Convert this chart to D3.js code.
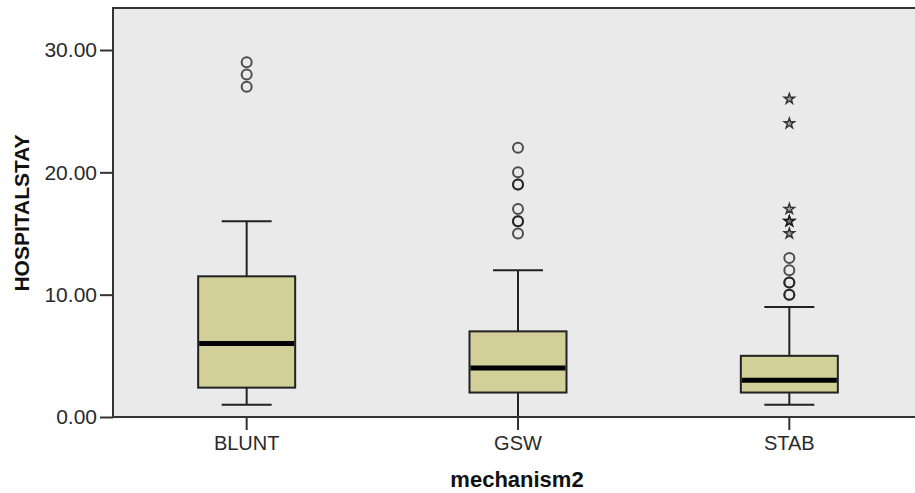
<!DOCTYPE html>
<html>
<head>
<meta charset="utf-8">
<script src="https://cdn.jsdelivr.net/npm/d3@7"></script>
<style>
  html, body { margin: 0; padding: 0; background: #fff; }
  svg { display: block; }
</style>
</head>
<body>
<svg id="chart" width="915" height="493"></svg>
<script>
// Hospital stay by injury mechanism: box-plot summaries
const categories = ["BLUNT", "GSW", "STAB"];
const lowerWhisker = [1, 0, 1];
const q1 = [2.4, 2, 2];
const median = [6, 4, 3];
const q3 = [11.5, 7, 5];
const upperWhisker = [16, 12, 9];
// outliers (circles) and extreme values (stars); repeats are duplicate cases
const outliers = [
  [27, 28, 29],
  [15, 16, 16, 17, 19, 19, 20, 22],
  [10, 10, 11, 11, 12, 13]
];
const extremes = [
  [],
  [],
  [15, 16, 16, 17, 24, 26]
];
const yTicks = [0, 10, 20, 30];
const xTitle = "mechanism2";
const yTitle = "HOSPITALSTAY";

const svg = d3.select("#chart");
const plotLeft = 113, plotTop = 8, plotBottom = 417, plotRight = 930;

const x = d3.scaleBand().domain(categories).range([111, 925]).padding(0);
const y = d3.scaleLinear().domain([0, 30]).range([plotBottom, 50]);

const boxW = 97, capW = 50;
const font = "'Liberation Sans', Arial, sans-serif";

// plot background
svg.append("rect")
  .attr("x", plotLeft).attr("y", plotTop)
  .attr("width", plotRight - plotLeft).attr("height", plotBottom - plotTop)
  .attr("fill", "#eaeaea");

const rows = categories.map((c, i) => ({
  c, lo: lowerWhisker[i], q1: q1[i], med: median[i], q3: q3[i], hi: upperWhisker[i],
  out: outliers[i], ext: extremes[i]
}));

const g = svg.append("g");
rows.forEach(d => {
  const cx = x(d.c) + x.bandwidth() / 2;
  const line = (x1, y1, x2, y2, w, col) => g.append("line")
    .attr("x1", x1).attr("y1", y1).attr("x2", x2).attr("y2", y2)
    .attr("stroke", col || "#222").attr("stroke-width", w || 2);
  // whiskers
  line(cx, y(d.hi), cx, y(d.q3));
  line(cx, y(d.q1), cx, y(d.lo));
  line(cx - capW / 2, y(d.hi), cx + capW / 2, y(d.hi));
  line(cx - capW / 2, y(d.lo), cx + capW / 2, y(d.lo));
  // box
  g.append("rect")
    .attr("x", cx - boxW / 2).attr("y", y(d.q3))
    .attr("width", boxW).attr("height", y(d.q1) - y(d.q3))
    .attr("fill", "#d3cf98").attr("stroke", "#222").attr("stroke-width", 2);
  // median
  line(cx - boxW / 2 + 1, y(d.med), cx + boxW / 2 - 1, y(d.med), 5, "#000");
  // outliers
  g.selectAll(null).data(d.out).enter().append("circle")
    .attr("cx", cx).attr("cy", v => y(v)).attr("r", 5)
    .attr("fill", "none").attr("stroke", "rgba(25,25,25,0.75)").attr("stroke-width", 2);
  // extreme values
  g.selectAll(null).data(d.ext).enter().append("path")
    .attr("d", d3.symbol(d3.symbolStar, 34)())
    .attr("transform", v => `translate(${cx},${y(v)})`)
    .attr("fill", "rgba(110,110,110,0.6)").attr("stroke", "rgba(15,15,15,0.8)").attr("stroke-width", 1.4);
});

// frame: top border
svg.append("line").attr("x1", plotLeft).attr("x2", plotRight).attr("y1", plotTop).attr("y2", plotTop)
  .attr("stroke", "#333").attr("stroke-width", 2);

// y axis
const yAxis = svg.append("g").attr("transform", `translate(${plotLeft},0)`)
  .call(d3.axisLeft(y).tickValues(yTicks).tickFormat(d3.format(".2f")).tickSize(13).tickPadding(3));
yAxis.select(".domain").remove();
yAxis.append("line").attr("x1", 0).attr("x2", 0).attr("y1", plotTop - 1).attr("y2", plotBottom + 1)
  .attr("stroke", "#333").attr("stroke-width", 2);
yAxis.selectAll(".tick line").attr("stroke", "#333").attr("stroke-width", 2);
yAxis.selectAll(".tick text").attr("fill", "#2a2a2a").style("font", `21px ${font}`);

// x axis
const xAxis = svg.append("g").attr("transform", `translate(0,${plotBottom})`)
  .call(d3.axisBottom(x).tickSize(13).tickPadding(6));
xAxis.select(".domain").remove();
xAxis.append("line").attr("x1", plotLeft - 1).attr("x2", plotRight).attr("y1", 0).attr("y2", 0)
  .attr("stroke", "#333").attr("stroke-width", 2);
xAxis.selectAll(".tick line").attr("stroke", "#333").attr("stroke-width", 2);
xAxis.selectAll(".tick text").attr("fill", "#2a2a2a").style("font", `20px ${font}`);

// axis titles
svg.append("text")
  .attr("x", 517).attr("y", 487)
  .attr("text-anchor", "middle")
  .style("font", `bold 22px ${font}`).attr("fill", "#111")
  .text(xTitle);
svg.append("text")
  .attr("transform", "translate(29,213) rotate(-90)")
  .attr("text-anchor", "middle")
  .style("font", `bold 21px ${font}`).attr("fill", "#111")
  .text(yTitle);
</script>
</body>
</html>
